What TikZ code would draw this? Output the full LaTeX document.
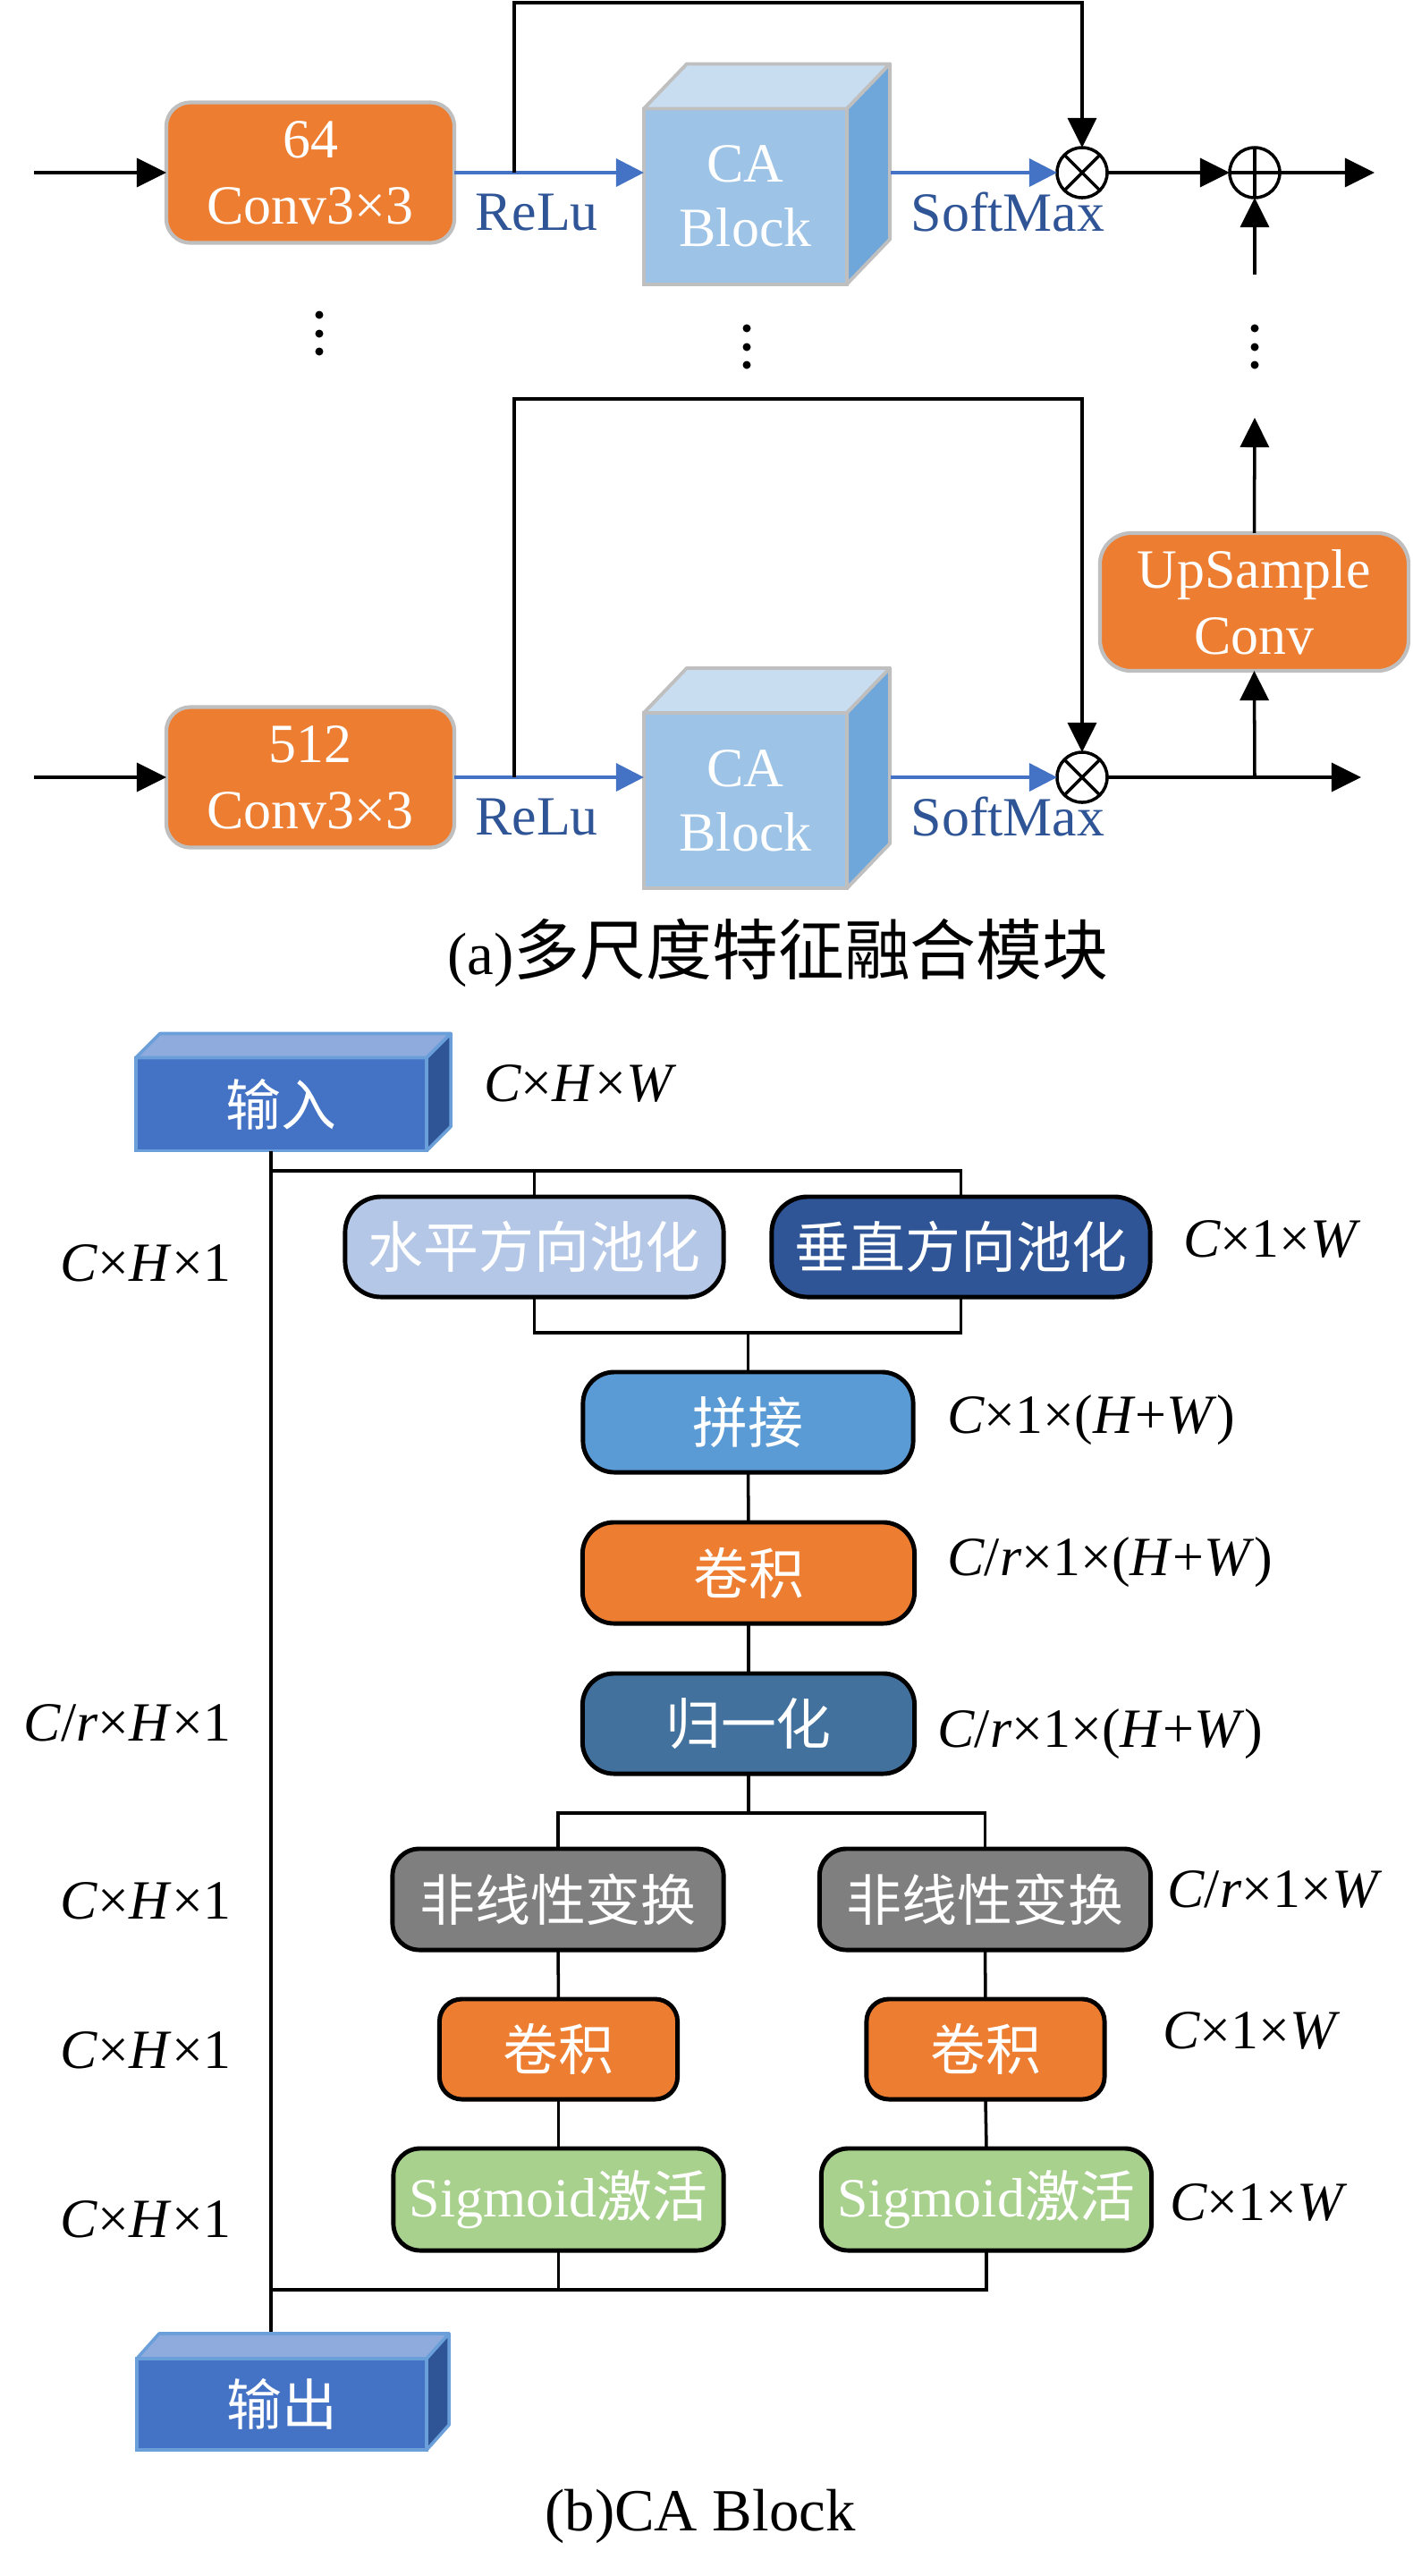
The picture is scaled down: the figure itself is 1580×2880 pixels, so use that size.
\documentclass[tikz,border=0pt]{standalone}
\usepackage{fontspec}
\setmainfont{Liberation Serif}
\newfontfamily\cjk{Noto Sans CJK SC}
\usepackage{xcolor}
\usetikzlibrary{calc, arrows.meta, positioning}
\definecolor{orng}{HTML}{ED7D31}
\definecolor{lgray}{HTML}{BFBFBF}
\definecolor{cafront}{HTML}{9DC3E6}
\definecolor{catop}{HTML}{C9DDF1}
\definecolor{caside}{HTML}{6FA7DB}
\definecolor{dblue}{HTML}{2F5597}
\definecolor{arrblue}{HTML}{4472C4}
\definecolor{inborder}{HTML}{6A9FDA}
\definecolor{intop}{HTML}{8FAADC}
\definecolor{hpool}{HTML}{B4C7E7}
\definecolor{catblue}{HTML}{5B9BD5}
\definecolor{normblue}{HTML}{41719C}
\definecolor{nlgray}{HTML}{7F7F7F}
\definecolor{siggreen}{HTML}{A9D18E}
\tikzset{
  convbox/.style={rectangle,draw=lgray,line width=1.2pt,fill=orng,text=white,inner sep=0pt,outer sep=0pt,
    minimum width=3.22cm,minimum height=1.57cm,rounded corners=2.7mm,align=center,font=\fontsize{17.6}{21}\selectfont},
  cubefront/.style={rectangle,draw=lgray,line width=1.1pt,fill=cafront,text=white,inner sep=0pt,outer sep=0pt,
    minimum width=2.27cm,minimum height=1.96cm,align=center,font=\fontsize{17.6}{20.5}\selectfont},
  cubetop/.style={draw=lgray,line width=1.1pt,line join=round,fill=catop},
  cubeside/.style={draw=lgray,line width=1.1pt,line join=round,fill=caside},
  mult/.style={circle,draw,fill=white,line width=1pt,minimum size=5.6mm,inner sep=0pt,outer sep=0pt,
    path picture={\draw[line width=1pt] (path picture bounding box.north west) -- (path picture bounding box.south east)
      (path picture bounding box.south west) -- (path picture bounding box.north east);}},
  plus/.style={circle,draw,fill=white,line width=1pt,minimum size=5.6mm,inner sep=0pt,outer sep=0pt,
    path picture={\draw[line width=1pt] (path picture bounding box.north) -- (path picture bounding box.south)
      (path picture bounding box.west) -- (path picture bounding box.east);}},
  blkarrow/.style={-{Triangle[length=3.3mm,width=3.2mm]},line width=1pt},
  bluarrow/.style={-{Triangle[length=3.1mm,width=3.1mm]},line width=1pt,color=arrblue},
  wire/.style={line width=1pt},
  dimlbl/.style={inner sep=0pt,outer sep=0pt,font=\fontsize{17.6}{21}\selectfont,text height=0.7em,text depth=0pt},
  actlbl/.style={dimlbl,text=dblue},
  capt/.style={inner sep=0pt,outer sep=0pt,font=\fontsize{19}{23}\selectfont},
  inbox/.style={rectangle,draw=inborder,line width=1pt,fill=arrblue,text=white,inner sep=0pt,outer sep=0pt,
    minimum width=3.25cm,minimum height=1.04cm,font=\fontsize{17.6}{21}\selectfont\cjk},
  intopface/.style={draw=inborder,line width=1pt,line join=round,fill=intop},
  insideface/.style={draw=inborder,line width=1pt,line join=round,fill=dblue},
  blk/.style={rectangle,rounded corners=3.5mm,draw=black,line width=1.4pt,text=white,inner sep=0pt,outer sep=0pt,
    minimum width=3.7cm,minimum height=1.12cm,font=\fontsize{17.6}{21}\selectfont\cjk}
}

\begin{document}
\begin{tikzpicture}[x=0.01cm,y=-0.01cm]
  \useasboundingbox (0,0) rectangle (1580,2880);
  \node[convbox] (C1) at (347,193) {64\\Conv3×3};
  \node[cubefront] (A1) at (833.5,219.5) {CA\\Block};
  \draw[cubetop] (A1.north west) -- ++(48,-50) -- ($(A1.north east)+(48,-50)$) -- (A1.north east) -- cycle;
  \draw[cubeside] (A1.north east) -- ++(48,-50) -- ($(A1.south east)+(48,-50)$) -- (A1.south east) -- cycle;
  \node[mult] (M1) at (1210,193) {};
  \node[plus] (P1) at (1403,193) {};
  \coordinate (In1) at (38,193);
  \coordinate (S1) at (575,193);
  \coordinate (O1) at (1537,193);
  \coordinate (Q1) at (1403,307);
  \draw[blkarrow] (In1) -- (C1.west);
  \draw[bluarrow] (C1.east) -- (C1.east -| A1.west);
  \node[actlbl] (R1) at (600,245) {ReLu};
  \draw[bluarrow] ($(A1.east |- C1.east)+(49,0)$) -- (M1.west);
  \node[actlbl] (X1) at (1127,246) {SoftMax};
  \draw[blkarrow] (S1) |- ($(M1.north)+(0,-162)$) -- (M1.north);
  \draw[blkarrow] (M1.east) -- (P1.west);
  \draw[blkarrow] (P1.east) -- (O1);
  \draw[blkarrow] (Q1) -- (P1.south);
  \foreach \x/\y in {357/352,357/373,357/393,835/367,835/388,835/408,1403/367,1403/388,1403/408}
    \fill (\x,\y) circle[radius=0.45mm];

  \node[convbox] (C2) at (347,869) {512\\Conv3×3};
  \node[cubefront] (A2) at (833.5,895) {CA\\Block};
  \draw[cubetop] (A2.north west) -- ++(48,-50) -- ($(A2.north east)+(48,-50)$) -- (A2.north east) -- cycle;
  \draw[cubeside] (A2.north east) -- ++(48,-50) -- ($(A2.south east)+(48,-50)$) -- (A2.south east) -- cycle;
  \node[mult] (M2) at (1210,869) {};
  \node[convbox, minimum width=3.45cm, minimum height=1.54cm, rounded corners=3.5mm] (U) at (1402.5,673) {UpSample\\Conv};
  \coordinate (In2) at (38,869);
  \coordinate (S2) at (575,869);
  \coordinate (B2) at (1403,869);
  \coordinate (O2) at (1522,869);
  \coordinate (Q2) at (1403,467);
  \draw[blkarrow] (In2) -- (C2.west);
  \draw[bluarrow] (C2.east) -- (C2.east -| A2.west);
  \node[actlbl] (R2) at (600,921) {ReLu};
  \draw[bluarrow] ($(A2.east |- C2.east)+(49,0)$) -- (M2.west);
  \node[actlbl] (X2) at (1127,922) {SoftMax};
  \draw[blkarrow] (S2) |- ($(M2.north)+(0,-395)$) -- (M2.north);
  \draw[blkarrow] (M2.east) -- (O2);
  \draw[blkarrow] (B2) -- (U.south);
  \draw[blkarrow] (U.north) -- (Q2);
  \node[capt] (CapA) at (870,1065) {(a){\cjk\fontsize{21}{24}\selectfont 多尺度特征融合模块}};

  \node[inbox] (I) at (314.5,1234.5) {输入};
  \draw[intopface] (I.north west) -- ++(27,-27) -- ($(I.north east)+(27,-27)$) -- (I.north east) -- cycle;
  \draw[insideface] (I.north east) -- ++(27,-27) -- ($(I.south east)+(27,-27)$) -- (I.south east) -- cycle;
  \node[dimlbl, anchor=west] (D0) at (541,1219) {\textit{C}×\textit{H}×\textit{W}};
  \coordinate (T1) at (303,1287);
  \coordinate (T2) at (303,2609);
  \coordinate (T3) at (303,1309);
  \coordinate (T4) at (303,2560);
  \draw[wire] (T1) -- (T2);
  \node[blk, fill=hpool, minimum width=4.23cm, rounded corners=4mm] (H) at (597.5,1394) {水平方向池化};
  \node[blk, fill=dblue, minimum width=4.23cm, rounded corners=4mm] (V) at (1074.5,1394) {垂直方向池化};
  \draw[wire] (T3) -| (V.north);
  \draw[wire] (H.north) -- (H.north |- T3);
  \draw[wire] (H.south) -- ++(0,40) -| (V.south);
  \node[blk, fill=catblue, minimum width=3.69cm] (J) at (836.5,1590) {拼接};
  \draw[wire] (J.north) -- ++(0,-44);
  \node[blk, fill=orng, minimum width=3.71cm, minimum height=1.13cm] (K1) at (837,1758.5) {卷积};
  \node[blk, fill=normblue, minimum width=3.71cm] (N) at (837,1927) {归一化};
  \draw[wire] (J.south) -- (K1.north);
  \draw[wire] (K1.south) -- (N.north);
  \node[blk, fill=nlgray, rounded corners=3mm, minimum height=1.13cm] (F1) at (624,2123.5) {非线性变换};
  \node[blk, fill=nlgray, rounded corners=3mm, minimum height=1.13cm] (F2) at (1101.5,2123.5) {非线性变换};
  \draw[wire] (N.south) -- ++(0,44);
  \draw[wire] (F1.north) -- ++(0,-40) -| (F2.north);
  \node[blk, fill=orng, rounded corners=2.5mm, minimum width=2.66cm] (K2) at (624.5,2291) {卷积};
  \node[blk, fill=orng, rounded corners=2.5mm, minimum width=2.66cm] (K3) at (1102,2291) {卷积};
  \node[blk, fill=siggreen, rounded corners=3mm, minimum width=3.69cm, minimum height=1.14cm] (G1) at (624.5,2459) {{\rmfamily Sigmoid}激活};
  \node[blk, fill=siggreen, rounded corners=3mm, minimum width=3.69cm, minimum height=1.14cm] (G2) at (1103,2459) {{\rmfamily Sigmoid}激活};
  \draw[wire] (F1.south) -- (K2.north);
  \draw[wire] (K2.south) -- (G1.north);
  \draw[wire] (F2.south) -- (K3.north);
  \draw[wire] (K3.south) -- (G2.north);
  \draw[wire] (G1.south) |- (T4);
  \draw[wire] (G2.south) |- (T4);
  \node[inbox, minimum width=3.24cm, minimum height=1.02cm] (O) at (315,2688) {输出};
  \draw[intopface] (O.north west) -- ++(25,-28) -- ($(O.north east)+(25,-28)$) -- (O.north east) -- cycle;
  \draw[insideface] (O.north east) -- ++(25,-28) -- ($(O.south east)+(25,-28)$) -- (O.south east) -- cycle;
  \node[capt] (CapB) at (783,2813) {(b)CA Block};

  \node[dimlbl, anchor=west] (D1) at (1323,1393) {\textit{C}×1×\textit{W}};
  \node[dimlbl, anchor=west] (D2) at (1059,1590) {\textit{C}×1×(\textit{H}+\textit{W})};
  \node[dimlbl, anchor=west] (D3) at (1059,1749) {\textit{C}/\textit{r}×1×(\textit{H}+\textit{W})};
  \node[dimlbl, anchor=west] (D4) at (1048,1941) {\textit{C}/\textit{r}×1×(\textit{H}+\textit{W})};
  \node[dimlbl, anchor=west] (D5) at (1305,2120) {\textit{C}/\textit{r}×1×\textit{W}};
  \node[dimlbl, anchor=west] (D6) at (1300,2278) {\textit{C}×1×\textit{W}};
  \node[dimlbl, anchor=west] (D7) at (1308,2470) {\textit{C}×1×\textit{W}};
  \node[dimlbl, anchor=east] (E1) at (258,1420) {\textit{C}×\textit{H}×1};
  \node[dimlbl, anchor=east] (E2) at (258,1934) {\textit{C}/\textit{r}×\textit{H}×1};
  \node[dimlbl, anchor=east] (E3) at (258,2133) {\textit{C}×\textit{H}×1};
  \node[dimlbl, anchor=east] (E4) at (258,2300) {\textit{C}×\textit{H}×1};
  \node[dimlbl, anchor=east] (E5) at (258,2489) {\textit{C}×\textit{H}×1};
\end{tikzpicture}
\end{document}
